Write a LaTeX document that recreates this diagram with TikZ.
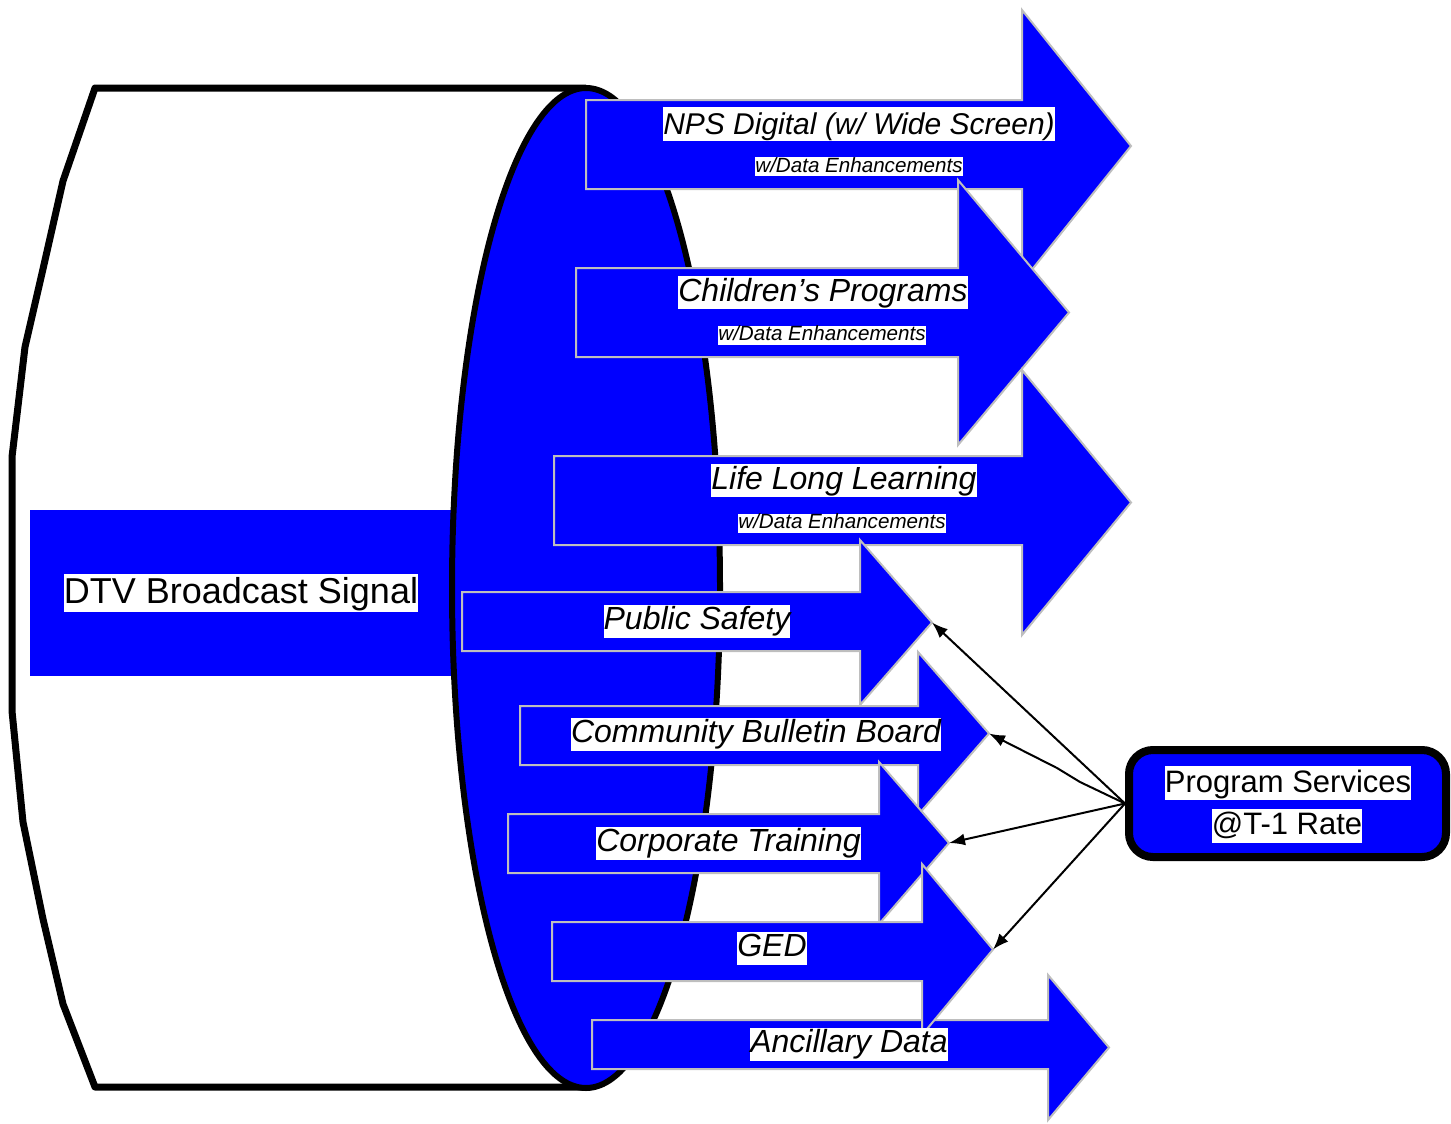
\documentclass[tikz,border=0pt]{standalone}
\usepackage{fontspec}
\setmainfont{Liberation Sans}
\usetikzlibrary{arrows.meta}
\definecolor{pblue}{RGB}{0,0,255}
\definecolor{pgray}{RGB}{190,190,190}
\newcommand{\barr}[8]{%
  \draw[barrow] (#2,#4) -- (#3,#4) -- (#3,#6) -- (#8,{(#6+#7)/2}) -- (#3,#7) -- (#3,#5) -- (#2,#5) -- cycle;
  \coordinate (#1) at (#8,{(#6+#7)/2});}
\begin{document}
\begin{tikzpicture}[x=0.5pt,y=-0.5pt,
  cyl/.style={draw=black, line width=3.5pt, line join=round},
  barrow/.style={fill=pblue, draw=pgray, line width=1pt},
  lab/.style={fill=white, inner sep=0pt, text=black, font=\fontsize{16}{16}\selectfont\itshape, text height=12.5pt, text depth=4pt},
  sublab/.style={fill=white, inner sep=0pt, text=black, font=\fontsize{10.3}{10.3}\selectfont\itshape, text height=7.5pt, text depth=2pt},
  plab/.style={fill=white, inner sep=0pt, text=black, font=\fontsize{15.5}{15.5}\selectfont, text height=13pt, text depth=4pt},
  conn/.style={draw=black, line width=1pt, -{Latex[length=8pt,width=6pt]}}]
\useasboundingbox (0,0) rectangle (1451,1124);
% cylinder body
\draw[cyl, fill=white] (586,88) -- (95,88) -- (63,181) -- (43,269) -- (25,347) -- (12,457) -- (12,711) -- (23,822) -- (43,919) -- (63,1004) -- (95,1087) -- (586,1087);
% DTV box
\node[fill=pblue, minimum width=211pt, minimum height=83pt, inner sep=0pt] (dtvbox) at (241,593) {};
% front ellipse
\draw[fill=pblue, draw=black, line width=3pt] (586,588) ellipse [x radius=134, y radius=500];
% block arrows
\barr{tNPS}{586}{1022}{100}{189}{10}{282}{1131}
\barr{tCH}{576}{958}{268}{357}{180}{445}{1069}
\barr{tLLL}{554}{1022}{456}{545}{370}{635}{1131}
\barr{tPS}{462}{860}{592}{651}{540}{705}{932}
\barr{tCBB}{520}{918}{706}{765}{652}{815}{989}
\barr{tCT}{508}{879}{814}{873}{762}{924}{949}
\barr{tAD}{592}{1048}{1020}{1069}{975}{1120}{1109}
\barr{tGED}{552}{922}{922}{981}{864}{1035}{993}
% labels
\node[plab, font=\fontsize{18}{18}\selectfont, text height=14.5pt, text depth=4.5pt] (dtv) at (241,593) {DTV Broadcast Signal};
\node[lab, font=\fontsize{15}{15}\selectfont\itshape, text height=13.5pt, text depth=3.5pt] (nps) at (859,124) {NPS Digital (w/ Wide Screen)};
\node[sublab] (nps2) at (859,166.5) {w/Data Enhancements};
\node[lab] (ch) at (823,292.5) {Children’s Programs};
\node[sublab] (ch2) at (822,335) {w/Data Enhancements};
\node[lab] (lll) at (844,480.5) {Life Long Learning};
\node[sublab] (lll2) at (842,523) {w/Data Enhancements};
\node[lab] (ps) at (697,621) {Public Safety};
\node[lab] (cbb) at (756,734) {Community Bulletin Board};
\node[lab] (ct) at (728.5,843) {Corporate Training};
\node[lab] (ged) at (772,948) {GED};
\node[lab] (ad) at (849,1044) {Ancillary Data};
% program services
\node[draw=black, line width=4pt, fill=pblue, rounded corners=12pt, minimum width=158.5pt, minimum height=53.5pt, inner sep=0pt] (prog) at (1287.5,803.5) {};
\node[plab] (prog1) at (1288,783) {Program Services};
\node[plab] (prog2) at (1287,825.5) {@T-1 Rate};
% connectors
\draw[conn] (prog.west) -- (tPS);
\draw[conn] (prog.west) -- (1080,782) -- (1057,768) -- (tCBB);
\draw[conn] (prog.west) -- (tCT);
\draw[conn] (prog.west) -- (tGED);
\end{tikzpicture}
\end{document}
